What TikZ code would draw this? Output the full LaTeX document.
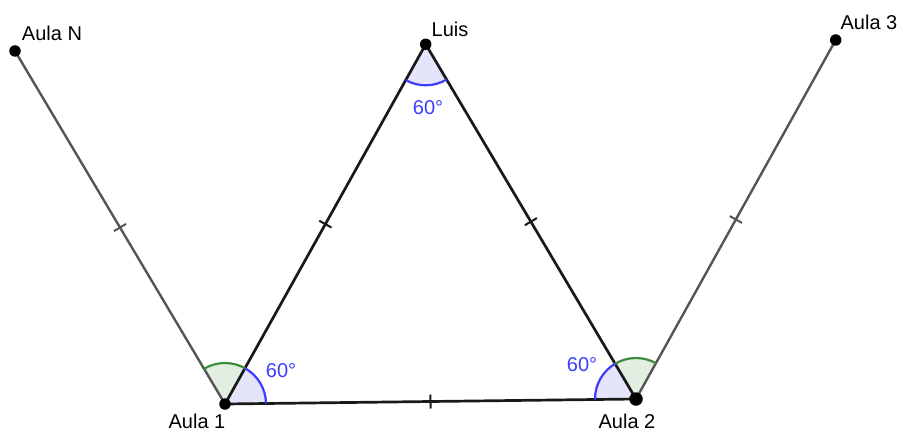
\documentclass[tikz,border=0pt]{standalone}
\usepackage{fontspec}
\setmainfont{Liberation Sans}
\usetikzlibrary{calc,angles}
\definecolor{arcblue}{RGB}{60,60,255}
\definecolor{fillblue}{RGB}{228,228,250}
\definecolor{arcgreen}{RGB}{60,140,60}
\definecolor{fillgreen}{RGB}{226,238,226}
\definecolor{seggray}{RGB}{85,85,85}
\definecolor{segblack}{RGB}{25,25,25}
\begin{document}
\begin{tikzpicture}[x=1pt,y=1pt,
  dot/.style={circle,fill=black,inner sep=0pt,minimum size=11.5pt},
  bigdot/.style={circle,fill=black,inner sep=0pt,minimum size=13.5pt},
  tri/.style={draw=segblack,line width=2.7pt},
  outer/.style={draw=seggray,line width=2.4pt},
  tickb/.style={draw=segblack,line width=2pt},
  tickg/.style={draw=seggray,line width=2pt},
  lbl/.style={font=\fontsize{20}{24}\selectfont,text=black,inner sep=0pt},
  deg/.style={font=\fontsize{20}{24}\selectfont,text=arcblue,inner sep=0pt},
  bluesec/.style={angle radius=41pt,fill=fillblue},
  greensec/.style={angle radius=41pt,fill=fillgreen},
  bluearc/.style={angle radius=41pt,draw=arcblue,line width=2.2pt},
  greenarc/.style={angle radius=41pt,draw=arcgreen,line width=2.2pt}]
\useasboundingbox (0,0) rectangle (904,432);
\coordinate (pN) at (15,381);
\coordinate (pL) at (425.7,387.7);
\coordinate (pT) at (835.7,392);
\coordinate (pA) at (225,28);
\coordinate (pB) at (636,33);
% sectors
\pic[bluesec] {angle=pB--pA--pL};
\pic[greensec] {angle=pL--pA--pN};
\pic[bluesec] {angle=pL--pB--pA};
\pic[greensec] {angle=pT--pB--pL};
\pic[bluesec] {angle=pA--pL--pB};
% segments
\draw[outer] (pN) -- (pA);
\draw[outer] (pB) -- (pT);
\draw[tri] (pA) -- (pL) -- (pB) -- cycle;
% ticks
\draw[tickg] ($(pN)!0.5!(pA)!7pt!90:(pA)$) -- ($(pN)!0.5!(pA)!7pt!-90:(pA)$);
\draw[tickg] ($(pB)!0.5!(pT)!7pt!90:(pT)$) -- ($(pB)!0.5!(pT)!7pt!-90:(pT)$);
\draw[tickb] ($(pA)!0.5!(pL)!7pt!90:(pL)$) -- ($(pA)!0.5!(pL)!7pt!-90:(pL)$);
\draw[tickb] ($(pL)!0.5!(pB)!7pt!90:(pB)$) -- ($(pL)!0.5!(pB)!7pt!-90:(pB)$);
\draw[tickb] ($(pA)!0.5!(pB)!7pt!90:(pB)$) -- ($(pA)!0.5!(pB)!7pt!-90:(pB)$);
% arcs
\pic[bluearc] {angle=pB--pA--pL};
\pic[greenarc] {angle=pL--pA--pN};
\pic[bluearc] {angle=pL--pB--pA};
\pic[greenarc] {angle=pT--pB--pL};
\pic[bluearc] {angle=pA--pL--pB};
% points
\node[dot] (N) at (pN) {};
\node[dot] (L) at (pL) {};
\node[dot] (T) at (pT) {};
\node[dot] (A) at (pA) {};
\node[bigdot] (B) at (pB) {};
% labels
\node[lbl] (tN) at (52,399) {Aula N};
\node[lbl] (tL) at (450,402.5) {Luis};
\node[lbl] (tT) at (869,410) {Aula 3};
\node[lbl] (tA) at (197,11) {Aula 1};
\node[lbl] (tB) at (627,11) {Aula 2};
\node[deg] (dA) at (281,61.5) {60°};
\node[deg] (dB) at (582,67) {60°};
\node[deg] (dL) at (428,324) {60°};
\end{tikzpicture}
\end{document}
